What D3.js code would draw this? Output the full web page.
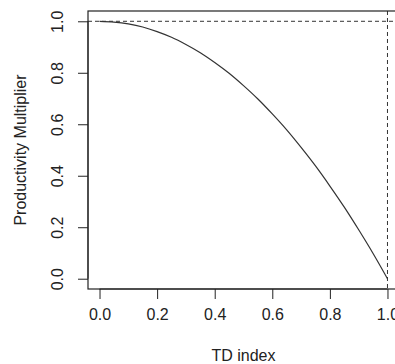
<!DOCTYPE html>
<html>
<head>
<meta charset="utf-8">
<script src="https://cdn.jsdelivr.net/npm/d3@7"></script>
<style>
  body { margin: 0; background: #fff; }
  svg text { font-family: "Liberation Sans", Arial, sans-serif; font-size: 16px; fill: #222; }
</style>
</head>
<body>
<script>
// TD index values
const tdIndex = [0, 0.05, 0.1, 0.15, 0.2, 0.25, 0.3, 0.35, 0.4, 0.45, 0.5,
                 0.55, 0.6, 0.65, 0.7, 0.75, 0.8, 0.85, 0.9, 0.95, 1.0];
// Productivity multiplier at each TD index
const multiplier = [1.000, 0.997, 0.990, 0.978, 0.960, 0.938, 0.910, 0.878, 0.840, 0.798, 0.750,
                    0.698, 0.640, 0.578, 0.510, 0.438, 0.360, 0.278, 0.190, 0.098, 0.000];
const xTicks = [0, 0.2, 0.4, 0.6, 0.8, 1.0];
const yTicks = [0, 0.2, 0.4, 0.6, 0.8, 1.0];
const refX = 1.0, refY = 1.0;

const W = 395, H = 364;
const margin = { top: 11, right: -4, bottom: 75, left: 88 };
const width = W - margin.left - margin.right;
const height = H - margin.top - margin.bottom;

const svg = d3.select("body").append("svg")
    .attr("width", W)
    .attr("height", H);

// R style 4% padding on each side
const xScale = d3.scaleLinear().domain([-0.04, 1.04]).range([margin.left, margin.left + width]);
const yScale = d3.scaleLinear().domain([-0.04, 1.04]).range([margin.top + height, margin.top]);

const data = tdIndex.map((x, i) => ({ x: x, y: multiplier[i] }));

// dashed reference lines
svg.append("line")
    .attr("x1", margin.left).attr("x2", margin.left + width)
    .attr("y1", yScale(refY)).attr("y2", yScale(refY))
    .attr("stroke", "#333").attr("stroke-width", 1).attr("stroke-dasharray", "4,3");
svg.append("line")
    .attr("x1", xScale(refX)).attr("x2", xScale(refX))
    .attr("y1", margin.top).attr("y2", margin.top + height)
    .attr("stroke", "#333").attr("stroke-width", 1).attr("stroke-dasharray", "4,3");

// the curve
const line = d3.line()
    .x(d => xScale(d.x))
    .y(d => yScale(d.y))
    .curve(d3.curveMonotoneX);

svg.append("path")
    .datum(data)
    .attr("d", line)
    .attr("fill", "none")
    .attr("stroke", "#333")
    .attr("stroke-width", 1.2);

// box around plot
svg.append("rect")
    .attr("x", margin.left).attr("y", margin.top)
    .attr("width", width).attr("height", height)
    .attr("fill", "none").attr("stroke", "#222").attr("stroke-width", 1.2);

// x axis
const xAxis = d3.axisBottom(xScale).tickValues(xTicks).tickSize(10).tickPadding(10)
    .tickFormat(d3.format(".1f"));
const gx = svg.append("g")
    .attr("transform", "translate(0," + (margin.top + height) + ")")
    .call(xAxis);
gx.select(".domain").attr("d", "M" + xScale(xTicks[0]) + ",0H" + xScale(xTicks[xTicks.length - 1]));

// y axis, labels rotated like R
const yAxis = d3.axisLeft(yScale).tickValues(yTicks).tickSize(10).tickPadding(10)
    .tickFormat(d3.format(".1f"));
const gy = svg.append("g")
    .attr("transform", "translate(" + margin.left + ",0)")
    .call(yAxis);
gy.select(".domain").attr("d", "M0," + yScale(yTicks[0]) + "V" + yScale(yTicks[yTicks.length - 1]));
gy.selectAll(".tick text")
    .attr("x", null).attr("dy", null)
    .attr("transform", "translate(-29,0) rotate(-90)")
    .attr("text-anchor", "middle")
    .attr("dominant-baseline", "middle");

svg.selectAll(".tick line, .domain").attr("stroke", "#222");
svg.selectAll(".tick text").style("font-size", "16px").style("font-family", "'Liberation Sans', Arial, sans-serif").attr("fill", "#222");

// axis titles
svg.append("text")
    .attr("x", margin.left + width / 2)
    .attr("y", 361)
    .attr("text-anchor", "middle")
    .text("TD index");

svg.append("text")
    .attr("transform", "translate(26," + (margin.top + height / 2) + ") rotate(-90)")
    .attr("text-anchor", "middle")
    .text("Productivity Multiplier");
</script>
</body>
</html>
